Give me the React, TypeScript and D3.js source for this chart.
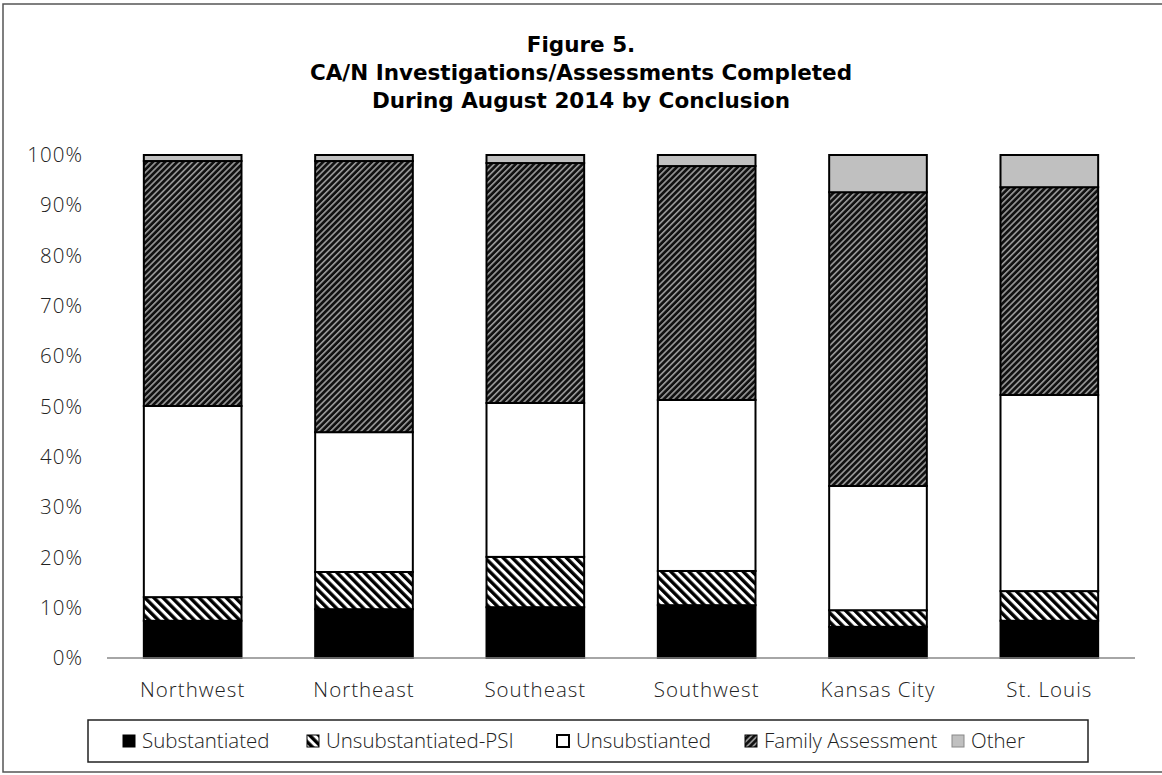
import React, { useRef, useEffect } from "react";
import * as d3 from "d3";

const categories = ["Northwest", "Northeast", "Southeast", "Southwest", "Kansas City", "St. Louis"];
const seriesNames = ["Substantiated", "Unsubstantiated-PSI", "Unsubstianted", "Family Assessment", "Other"];
const substantiated = [7.4, 9.7, 10.1, 10.5, 6.2, 7.4];
const unsubPSI = [4.7, 7.4, 10.0, 6.8, 3.3, 5.9];
const unsubstantiated = [38.0, 27.8, 30.6, 34.0, 24.7, 39.0];
const familyAssessment = [48.7, 53.9, 47.7, 46.5, 58.4, 41.3];
const other = [1.2, 1.2, 1.6, 2.2, 7.4, 6.4];
const yTicks = [0, 10, 20, 30, 40, 50, 60, 70, 80, 90, 100];
const titleLines = ["Figure 5.", "CA/N Investigations/Assessments Completed", "During August 2014 by Conclusion"];

const W = 1162;
const H = 775;
const labelFont = "'Open Sans', sans-serif";

function App() {
  const ref = useRef(null);

  useEffect(() => {
    const svg = d3.select(ref.current);
    svg.selectAll("*").remove();

    const margin = { top: 155, right: 27, bottom: 117, left: 107 };
    const width = W - margin.left - margin.right;
    const height = H - margin.top - margin.bottom;

    // patterns
    const defs = svg.append("defs");
    const psi = defs
      .append("pattern")
      .attr("id", "psi")
      .attr("patternUnits", "userSpaceOnUse")
      .attr("width", 6.4)
      .attr("height", 6.4)
      .attr("patternTransform", "rotate(-45)");
    psi.append("rect").attr("width", 6.4).attr("height", 6.4).attr("fill", "#fff");
    psi.append("rect").attr("width", 3.4).attr("height", 6.4).attr("fill", "#000");

    const fa = defs
      .append("pattern")
      .attr("id", "fa")
      .attr("patternUnits", "userSpaceOnUse")
      .attr("width", 4.3)
      .attr("height", 4.3)
      .attr("patternTransform", "rotate(45)");
    fa.append("rect").attr("width", 4.3).attr("height", 4.3).attr("fill", "#111");
    fa.append("rect").attr("width", 1.6).attr("height", 4.3).attr("fill", "#9a9a9a");

    const fills = ["#000", "url(#psi)", "#fff", "url(#fa)", "#c0c0c0"];

    // outer border
    svg
      .append("rect")
      .attr("x", 3)
      .attr("y", 4)
      .attr("width", W)
      .attr("height", 768)
      .attr("fill", "#fff")
      .attr("stroke", "#555")
      .attr("stroke-width", 1.5);

    // title
    svg
      .append("text")
      .attr("x", W / 2)
      .attr("text-anchor", "middle")
      .style("font-family", "'DejaVu Sans', Verdana, sans-serif")
      .style("font-weight", "bold")
      .style("font-size", "21.5px")
      .selectAll("tspan")
      .data(titleLines)
      .enter()
      .append("tspan")
      .attr("x", W / 2)
      .attr("y", (d, i) => 52 + i * 28)
      .text((d) => d);

    const g = svg.append("g").attr("transform", `translate(${margin.left},${margin.top})`);

    const x = d3.scaleBand().domain(categories).range([0, width]).paddingInner(0.43).paddingOuter(0.215);
    const y = d3.scaleLinear().domain([0, 100]).range([height, 0]);

    const rows = categories.map((c, i) => ({
      cat: c,
      [seriesNames[0]]: substantiated[i],
      [seriesNames[1]]: unsubPSI[i],
      [seriesNames[2]]: unsubstantiated[i],
      [seriesNames[3]]: familyAssessment[i],
      [seriesNames[4]]: other[i],
    }));
    const stacked = d3.stack().keys(seriesNames)(rows);

    const labelStyle = (sel) =>
      sel
        .style("font-family", labelFont)
        .style("font-weight", 300)
        .style("font-size", "20.5px")
        .style("letter-spacing", "1px")
        .style("fill", "#222");

    // y tick labels
    g.selectAll(".ytick")
      .data(yTicks)
      .enter()
      .append("text")
      .attr("x", -24)
      .attr("y", (d) => y(d))
      .attr("dy", "0.35em")
      .attr("text-anchor", "end")
      .call(labelStyle)
      .text((d) => d + "%");

    // bars
    stacked.forEach((s, si) => {
      g.append("g")
        .selectAll("rect")
        .data(s)
        .enter()
        .append("rect")
        .attr("x", (d) => x(d.data.cat))
        .attr("y", (d) => y(d[1]))
        .attr("width", x.bandwidth())
        .attr("height", (d) => y(d[0]) - y(d[1]))
        .attr("fill", fills[si])
        .attr("stroke", "#000")
        .attr("stroke-width", 2);
    });

    // x axis line
    g.append("line")
      .attr("x1", 0)
      .attr("x2", width)
      .attr("y1", height)
      .attr("y2", height)
      .attr("stroke", "#888")
      .attr("stroke-width", 1.5);

    g.selectAll(".xlab")
      .data(categories)
      .enter()
      .append("text")
      .attr("x", (d) => x(d) + x.bandwidth() / 2)
      .attr("y", height + 39)
      .attr("text-anchor", "middle")
      .call(labelStyle)
      .text((d) => d);

    // legend
    const lg = svg.append("g");
    lg.append("rect")
      .attr("x", 88)
      .attr("y", 720)
      .attr("width", 1000)
      .attr("height", 42)
      .attr("fill", "#fff")
      .attr("stroke", "#222")
      .attr("stroke-width", 1.5);
    const legendX = [123, 307, 557, 745, 952];
    const items = lg
      .selectAll(".item")
      .data(seriesNames)
      .enter()
      .append("g")
      .attr("transform", (d, i) => `translate(${legendX[i]},735)`);
    items
      .append("rect")
      .attr("width", 12)
      .attr("height", 12)
      .attr("fill", (d, i) => fills[i])
      .attr("stroke", (d, i) => (i === 4 ? "#888" : "#000"))
      .attr("stroke-width", (d, i) => (i === 2 ? 2 : 1));
    items
      .append("text")
      .attr("x", 19)
      .attr("y", 6)
      .attr("dy", "0.35em")
      .call(labelStyle)
      .style("letter-spacing", "0px")
      .text((d) => d);
  }, []);

  return (
    <div style={{ position: "absolute", left: 0, top: 0 }}>
      <svg ref={ref} width={W} height={H}></svg>
    </div>
  );
}

export default App;
